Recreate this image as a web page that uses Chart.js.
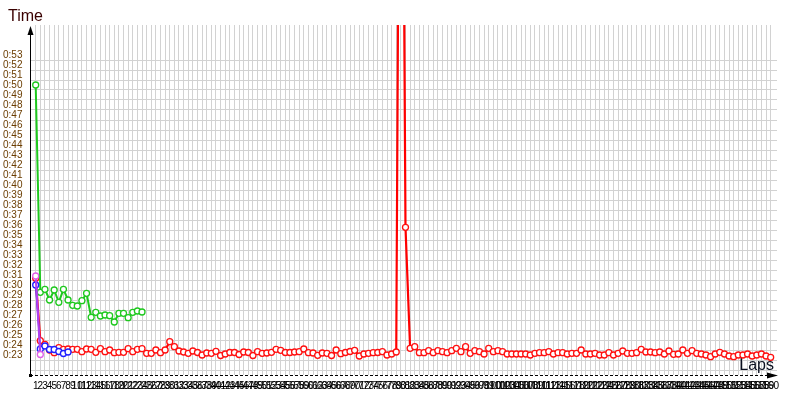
<!DOCTYPE html>
<html>
<head>
<meta charset="utf-8">
<script src="https://cdn.jsdelivr.net/npm/chart.js@4.4.1/dist/chart.umd.min.js"></script>
<style>
  body { margin: 0; background: #fff; }
  canvas { display: block; }
</style>
</head>
<body>
<canvas id="lapChart" width="800" height="400"></canvas>
<script>
// lap times in seconds, one value per lap starting at lap 1
const redTimes = [
  30.67, 24.43, 24.07, 23.5, 23.23, 23.73, 23.57, 23.6, 23.57, 23.57,
  23.33, 23.6, 23.57, 23.27, 23.63, 23.33, 23.5, 23.23, 23.27, 23.27,
  23.63, 23.33, 23.57, 23.63, 23.17, 23.17, 23.5, 23.23, 23.5, 24.33,
  23.83, 23.4, 23.3, 23.17, 23.4, 23.25, 23.0, 23.2, 23.17, 23.37,
  22.95, 23.1, 23.25, 23.25, 23.05, 23.3, 23.25, 22.95, 23.33, 23.17,
  23.2, 23.27, 23.57, 23.47, 23.25, 23.25, 23.3, 23.33, 23.6, 23.23,
  23.2, 22.97, 23.2, 23.17, 22.95, 23.5, 23.13, 23.25, 23.35, 23.47,
  22.9, 23.1, 23.17, 23.23, 23.25, 23.33, 23.0, 23.1, 23.3, 112,
  35.77, 23.67, 23.83, 23.23, 23.23, 23.43, 23.23, 23.43, 23.33, 23.23,
  23.43, 23.67, 23.33, 23.83, 23.17, 23.43, 23.33, 23.1, 23.67, 23.33,
  23.43, 23.33, 23.1, 23.1, 23.1, 23.1, 23.1, 23.0, 23.17, 23.23,
  23.23, 23.33, 23.1, 23.23, 23.23, 23.1, 23.17, 23.17, 23.5, 23.1,
  23.1, 23.17, 23.0, 23.0, 23.23, 23.0, 23.17, 23.4, 23.17, 23.17,
  23.23, 23.57, 23.3, 23.3, 23.23, 23.3, 23.1, 23.4, 23.07, 23.1,
  23.5, 23.17, 23.43, 23.17, 23.1, 23.0, 22.83, 23.1, 23.27, 23.1,
  22.9, 22.83, 23.0, 23.0, 23.1, 22.9, 23.0, 23.1, 22.9, 22.77
];
const greenTimes = [
  50.0, 29.27, 29.57, 28.5, 29.5, 28.27, 29.57, 28.5, 27.97, 27.9,
  28.43, 29.17, 26.77, 27.27, 26.9, 27.0, 26.93, 26.3, 27.17, 27.17,
  26.73, 27.27, 27.4, 27.3
];
const blueTimes = [30.0, 23.6, 23.9, 23.55, 23.55, 23.35, 23.15, 23.3];
const purpleTimes = [30.9, 23.05];

const lapCount = 160;
const laps = [];
for (let i = 1; i <= lapCount; i++) laps.push(i);

const timeTicks = [];
for (let s = 21; s <= 56; s++) timeTicks.push(s);
const firstLabel = 23;
const lastLabel = 53;

function toPoints(times) {
  return times.map(function (t, i) { return { x: laps[i], y: t }; });
}

function formatTime(sec) {
  const m = Math.floor(sec / 60);
  const s = Math.round(sec % 60);
  return m + ":" + (s < 10 ? "0" + s : s);
}

// order: lower number is drawn on top
function series(label, times, line, point, width, order) {
  return {
    label: label,
    data: toPoints(times),
    order: order,
    borderColor: line,
    borderWidth: width,
    pointBorderColor: point,
    pointBackgroundColor: "#ffffff",
    pointBorderWidth: 1.3,
    pointRadius: 3,
    tension: 0
  };
}

// arrows, dashed x axis and axis titles
const axisPlugin = {
  id: "axisDecor",
  beforeDatasetsDraw(chart) {
    const ctx = chart.ctx;
    const a = chart.chartArea;
    ctx.save();
    ctx.strokeStyle = "#000";
    ctx.fillStyle = "#000";
    ctx.lineWidth = 1;

    // y axis
    ctx.beginPath();
    ctx.moveTo(a.left + 0.5, a.top + 8);
    ctx.lineTo(a.left + 0.5, a.bottom);
    ctx.stroke();
    ctx.beginPath();
    ctx.moveTo(a.left + 0.5, a.top + 1);
    ctx.lineTo(a.left - 2.5, a.top + 10);
    ctx.lineTo(a.left + 3.5, a.top + 10);
    ctx.closePath();
    ctx.fill();

    // x axis
    ctx.setLineDash([3, 2]);
    ctx.beginPath();
    ctx.moveTo(a.left, a.bottom + 0.5);
    ctx.lineTo(a.right - 8, a.bottom + 0.5);
    ctx.stroke();
    ctx.setLineDash([]);
    ctx.beginPath();
    ctx.moveTo(a.right + 1, a.bottom + 0.5);
    ctx.lineTo(a.right - 10, a.bottom - 2.5);
    ctx.lineTo(a.right - 10, a.bottom + 3.5);
    ctx.closePath();
    ctx.fill();
    ctx.fillRect(a.left - 1, a.bottom - 1, 3, 3);

    ctx.font = "16px 'Liberation Sans'";
    ctx.fillStyle = "#3a0000";
    ctx.textAlign = "left";
    ctx.textBaseline = "alphabetic";
    ctx.fillText("Time", 8, 21);
    ctx.fillStyle = "#0a1020";
    ctx.textAlign = "right";
    ctx.fillText("Laps", a.right - 3, a.bottom - 5);
    ctx.restore();
  }
};

new Chart(document.getElementById("lapChart"), {
  type: "line",
  data: {
    datasets: [
      series("Red", redTimes, "#ff0000", "#ff1010", 2.2, 3),
      series("Green", greenTimes, "#1ec81e", "#1ec81e", 2, 2),
      series("Blue", blueTimes, "#2020ff", "#2020ff", 1.5, 1),
      series("Purple", purpleTimes, "#b040f0", "#e060e8", 2.2, 0)
    ]
  },
  options: {
    responsive: false,
    animation: false,
    events: [],
    layout: { padding: { left: 3, top: 25, right: 23, bottom: 0 } },
    plugins: {
      legend: { display: false },
      tooltip: { enabled: false }
    },
    scales: {
      x: {
        type: "linear",
        min: -0.233,
        max: 161.37,
        afterBuildTicks: function (scale) {
          scale.ticks = laps.map(function (v) { return { value: v }; });
        },
        afterFit: function (scale) { scale.height = 25; },
        border: { display: false },
        grid: { color: "#d2d2d2", lineWidth: 1, drawTicks: false },
        ticks: {
          autoSkip: false,
          maxRotation: 0,
          minRotation: 0,
          padding: 5,
          color: "#000",
          font: { family: "'Liberation Sans'", size: 10 },
          callback: function (v) { return String(v); }
        }
      },
      y: {
        type: "linear",
        min: 21,
        max: 56,
        afterBuildTicks: function (scale) {
          scale.ticks = timeTicks.map(function (v) { return { value: v }; });
        },
        afterFit: function (scale) { scale.width = 27; },
        border: { display: false },
        grid: {
          offset: true,
          drawTicks: false,
          lineWidth: 1,
          color: function (c) {
            return c.tick && c.tick.value >= 22 && c.tick.value <= lastLabel ? "#d2d2d2" : "rgba(0,0,0,0)";
          }
        },
        ticks: {
          autoSkip: false,
          crossAlign: "far",
          padding: 0,
          color: "#6b3d00",
          font: { family: "'Liberation Sans'", size: 10 },
          callback: function (v) {
            return v >= firstLabel && v <= lastLabel ? formatTime(v) : "";
          }
        }
      }
    }
  },
  plugins: [axisPlugin]
});
</script>
</body>
</html>
